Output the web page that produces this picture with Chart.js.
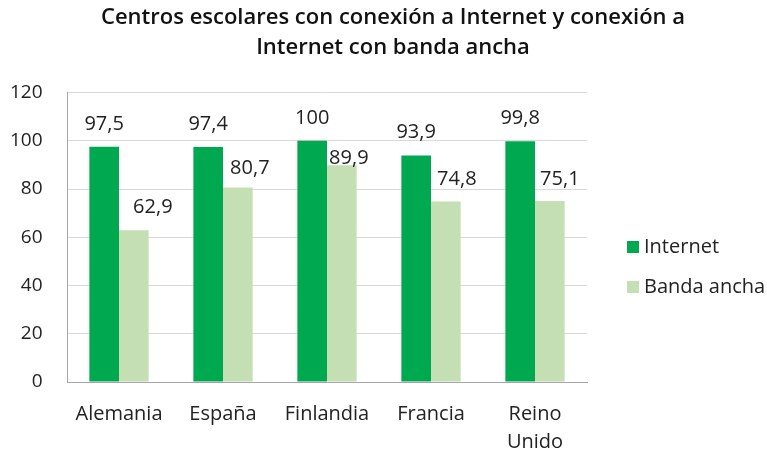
<!DOCTYPE html>
<html>
<head>
<meta charset="utf-8">
<script src="https://cdn.jsdelivr.net/npm/chart.js@4"></script>
<style>
  html, body { margin: 0; padding: 0; background: #fff; }
  #wrap { width: 767px; height: 452px; }
</style>
</head>
<body>
<div id="wrap"><canvas id="schoolsChart" width="767" height="452"></canvas></div>
<script>
const countries = ['Alemania', 'España', 'Finlandia', 'Francia', ['Reino', 'Unido']];
const internet = [97.5, 97.4, 100, 93.9, 99.8];
const bandaAncha = [62.9, 80.7, 89.9, 74.8, 75.1];
const yTicks = [0, 20, 40, 60, 80, 100, 120];

const FONT = '"Open Sans", "Noto Sans", sans-serif';

// the light green labels were nudged by hand in the original (dx, dy in px)
const bandaNudge = [[19, 0], [12, 4], [7, 16], [11, 1], [10, 1]];

// value labels above the bars, written with a decimal comma
const valueLabels = {
    id: 'valueLabels',
    afterDatasetsDraw(chart) {
        const ctx = chart.ctx;
        ctx.save();
        ctx.font = '20px ' + FONT;
        ctx.fillStyle = '#222';
        ctx.textAlign = 'center';
        ctx.textBaseline = 'middle';
        chart.data.datasets.forEach((ds, di) => {
            const meta = chart.getDatasetMeta(di);
            meta.data.forEach((bar, i) => {
                const txt = String(ds.data[i]).replace('.', ',');
                const n = di === 1 ? bandaNudge[i] : [0, 0];
                ctx.fillText(txt, bar.x + n[0], bar.y - 23 + n[1]);
            });
        });
        ctx.restore();
    }
};

// legend drawn to the right of the plot, like the Excel original
const sideLegend = {
    id: 'sideLegend',
    afterDraw(chart) {
        const ctx = chart.ctx;
        ctx.save();
        ctx.font = '20px ' + FONT;
        ctx.textBaseline = 'middle';
        ctx.textAlign = 'left';
        chart.data.datasets.forEach((ds, di) => {
            const y = 247 + di * 40;
            ctx.fillStyle = ds.backgroundColor;
            ctx.fillRect(627, y - 6, 12, 12);
            ctx.fillStyle = '#222';
            ctx.fillText(ds.label, 644, y);
        });
        ctx.restore();
    }
};

new Chart(document.getElementById('schoolsChart'), {
    type: 'bar',
    data: {
        labels: countries,
        datasets: [
            { label: 'Internet', data: internet, backgroundColor: '#00a84f' },
            { label: 'Banda ancha', data: bandaAncha, backgroundColor: '#c4dfb3' }
        ]
    },
    options: {
        responsive: false,
        animation: false,
        // left padding only to centre the title where Excel had it
        layout: { padding: { left: 19, right: 0, top: 0, bottom: 0 } },
        datasets: {
            bar: { barPercentage: 1, categoryPercentage: 0.57 }
        },
        scales: {
            x: {
                afterFit: axis => { axis.height = 70; },
                grid: { display: false },
                border: { color: '#a6a6a6' },
                ticks: { color: '#222', font: { family: FONT, size: 20, lineHeight: 1.4 }, padding: 10, maxRotation: 0 }
            },
            y: {
                min: 0,
                max: 120,
                afterBuildTicks: axis => { axis.ticks = yTicks.map(v => ({ value: v })); },
                afterFit: axis => { axis.width = 48; },
                grid: { color: '#d9d9d9', drawTicks: false },
                border: { color: '#a6a6a6' },
                // mirrored so the labels may spill past the padded edge without clipping
                ticks: { color: '#222', font: { family: FONT, size: 19 }, mirror: true, crossAlign: 'far', padding: -57 }
            },
            // empty axis that only reserves the room where the legend sits
            legendRoom: {
                type: 'linear',
                axis: 'y',
                position: 'right',
                min: 0,
                max: 1,
                afterFit: axis => { axis.width = 180; },
                grid: { display: false },
                border: { display: false },
                ticks: { display: false }
            }
        },
        plugins: {
            title: {
                display: true,
                text: ['Centros escolares con conexión a Internet y conexión a', 'Internet con banda ancha'],
                color: '#111',
                font: { family: FONT, size: 22, weight: 600, lineHeight: 1.4 },
                padding: { top: 2, bottom: 29 }
            },
            legend: { display: false },
            tooltip: { enabled: false }
        }
    },
    plugins: [valueLabels, sideLegend]
});
</script>
</body>
</html>
